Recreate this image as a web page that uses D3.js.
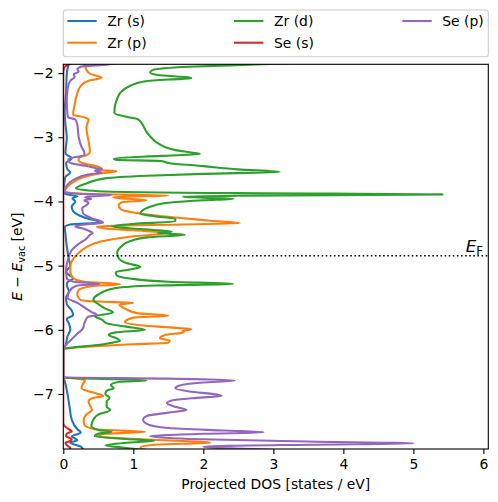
<!DOCTYPE html>
<html><head><meta charset="utf-8">
<script src="https://cdn.jsdelivr.net/npm/d3@7"></script>
<style>body{margin:0;background:#fff}svg{display:block}text{font-family:"DejaVu Sans",sans-serif;fill:#000}</style>
</head><body>
<script>
// ---- data: [energy (eV), projected DOS (states/eV)] ----
const seriesNames = ["Zr (s)", "Zr (p)", "Zr (d)", "Se (s)", "Se (p)"];
const seriesColors = ["#1f77b4", "#ff7f0e", "#2ca02c", "#d62728", "#9467bd"];
const fermiEnergy = -4.845;
const xTicks = [0, 1, 2, 3, 4, 5, 6];
const yTicks = [-2, -3, -4, -5, -6, -7];
const xDomain = [0, 6.07];
const yDomain = [-1.863, -7.857];

const zrS = [[-1.80,0.08],[-1.88,0.07],[-2.0,0.05],[-2.3,0.04],[-2.6,0.02],[-2.8,0.03],[-3.0,0.05],[-3.25,0.03],[-3.33,0.12],[-3.4,0.04],[-3.5,0.06],[-3.55,0.1],[-3.62,0.03],[-3.75,0.01],[-3.86,0.0],[-3.89,0.06],[-3.92,0.2],[-3.95,0.13],[-4.0,0.17],[-4.08,0.12],[-4.15,0.14],[-4.25,0.3],[-4.33,0.53],[-4.36,0.1],[-4.40,0.02],[-4.5,0.03],[-4.7,0.05],[-4.9,0.08],[-5.0,0.1],[-5.1,0.04],[-5.2,0.14],[-5.26,0.06],[-5.3,0.05],[-5.4,0.08],[-5.5,0.04],[-5.6,0.05],[-5.7,0.12],[-5.77,0.14],[-5.83,0.05],[-5.9,0.08],[-6.0,0.1],[-6.1,0.06],[-6.25,0.03],[-6.3,0],[-6.74,0],[-6.8,0.02],[-7.0,0.06],[-7.2,0.09],[-7.4,0.12],[-7.55,0.2],[-7.6,0.25],[-7.66,0.12],[-7.72,0.2],[-7.76,0.1],[-7.82,0.25],[-7.9,0.3]];

const zrP = [[-1.80,0.3],[-1.87,0.31],[-1.95,0.33],[-2.02,0.4],[-2.07,0.55],[-2.09,0.5],[-2.12,0.36],[-2.2,0.25],[-2.35,0.19],[-2.5,0.16],[-2.65,0.14],[-2.69,0.3],[-2.72,0.36],[-2.85,0.33],[-3.0,0.35],[-3.12,0.37],[-3.22,0.38],[-3.28,0.33],[-3.32,0.22],[-3.36,0.22],[-3.41,0.3],[-3.46,0.5],[-3.49,0.55],[-3.51,0.52],[-3.53,0.76],[-3.56,0.55],[-3.60,0.36],[-3.68,0.17],[-3.76,0.07],[-3.85,0.02],[-3.88,0.3],[-3.91,1.5],[-3.93,0.71],[-3.95,0.8],[-3.98,1.19],[-4.01,0.85],[-4.06,0.79],[-4.12,0.82],[-4.18,1.05],[-4.25,1.6],[-4.30,2.1],[-4.34,2.52],[-4.37,1.0],[-4.39,0.48],[-4.42,0.6],[-4.45,1.0],[-4.49,1.48],[-4.51,1.35],[-4.55,0.95],[-4.62,0.55],[-4.7,0.35],[-4.8,0.22],[-4.9,0.14],[-5.0,0.1],[-5.1,0.1],[-5.2,0.15],[-5.25,0.3],[-5.29,0.81],[-5.32,0.4],[-5.38,0.22],[-5.45,0.2],[-5.53,0.24],[-5.56,0.5],[-5.58,1.0],[-5.61,0.8],[-5.68,0.9],[-5.74,1.05],[-5.78,1.5],[-5.81,1.0],[-5.88,0.88],[-5.93,1.1],[-5.97,1.6],[-5.99,1.83],[-6.02,1.7],[-6.04,1.72],[-6.08,1.45],[-6.13,1.38],[-6.17,1.52],[-6.20,1.5],[-6.23,0.9],[-6.26,0.4],[-6.29,0.05],[-6.30,0],[-6.74,0],[-6.76,0.2],[-6.79,0.31],[-6.84,0.28],[-6.91,0.26],[-6.97,0.4],[-7.03,0.57],[-7.07,0.4],[-7.11,0.36],[-7.18,0.38],[-7.25,0.41],[-7.32,0.33],[-7.40,0.29],[-7.48,0.3],[-7.55,0.45],[-7.59,1.17],[-7.62,0.6],[-7.66,0.5],[-7.71,1.2],[-7.76,2.1],[-7.79,1.3],[-7.83,1.1],[-7.9,1.3]];

const zrD = [[-1.80,4.0],[-1.863,2.85],[-1.90,1.8],[-1.95,1.28],[-1.99,1.24],[-2.03,1.35],[-2.07,1.8],[-2.085,1.83],[-2.10,1.5],[-2.13,1.15],[-2.2,0.95],[-2.3,0.82],[-2.4,0.77],[-2.5,0.74],[-2.62,0.73],[-2.68,0.9],[-2.72,1.07],[-2.8,1.13],[-2.9,1.18],[-3.0,1.25],[-3.08,1.33],[-3.15,1.45],[-3.2,1.6],[-3.24,1.85],[-3.26,1.95],[-3.29,1.4],[-3.33,0.72],[-3.35,0.75],[-3.37,1.4],[-3.40,1.5],[-3.45,2.0],[-3.50,2.5],[-3.54,3.09],[-3.57,2.0],[-3.60,1.2],[-3.64,0.6],[-3.72,0.33],[-3.80,0.18],[-3.84,0.5],[-3.87,2.5],[-3.89,5.42],[-3.91,2.5],[-3.925,1.7],[-3.94,2.0],[-3.96,2.43],[-3.98,2.0],[-4.02,1.5],[-4.08,1.25],[-4.15,1.12],[-4.19,1.10],[-4.23,1.3],[-4.27,1.6],[-4.31,1.6],[-4.35,1.0],[-4.39,0.69],[-4.43,1.1],[-4.47,1.55],[-4.49,1.35],[-4.52,1.74],[-4.56,1.2],[-4.62,0.95],[-4.7,0.83],[-4.8,0.77],[-4.88,0.79],[-4.96,0.9],[-5.02,1.1],[-5.06,0.95],[-5.10,0.75],[-5.15,0.76],[-5.2,0.95],[-5.25,1.5],[-5.285,2.43],[-5.31,1.3],[-5.35,0.75],[-5.45,0.5],[-5.53,0.43],[-5.6,0.5],[-5.67,0.6],[-5.73,0.71],[-5.79,0.45],[-5.84,0.55],[-5.90,0.62],[-5.95,0.9],[-6.0,1.17],[-6.04,0.75],[-6.08,0.65],[-6.13,0.76],[-6.17,0.81],[-6.2,0.7],[-6.24,0.45],[-6.28,0.1],[-6.30,0],[-6.75,0],[-6.77,0.8],[-6.79,1.19],[-6.81,0.8],[-6.86,0.68],[-6.91,0.72],[-6.95,0.62],[-7.0,0.6],[-7.06,0.66],[-7.12,0.62],[-7.2,0.62],[-7.25,0.67],[-7.32,0.5],[-7.40,0.43],[-7.5,0.4],[-7.56,0.5],[-7.59,0.69],[-7.62,0.5],[-7.66,0.45],[-7.70,0.9],[-7.73,1.3],[-7.76,0.9],[-7.80,0.6],[-7.84,0.9],[-7.9,1.4]];

const seS = [[-1.80,0.15],[-1.86,0.1],[-1.90,0.02],[-2.0,0],[-7.45,0],[-7.5,0.02],[-7.55,0.08],[-7.58,0.12],[-7.62,0.05],[-7.66,0.04],[-7.7,0.12],[-7.73,0.1],[-7.76,0.03],[-7.8,0.05],[-7.84,0.1],[-7.9,0.05]];

const seP = [[-1.80,0.9],[-1.865,0.64],[-1.90,0.25],[-1.94,0.2],[-1.98,0.22],[-2.02,0.15],[-2.06,0.16],[-2.12,0.1],[-2.25,0.06],[-2.45,0.05],[-2.65,0.06],[-2.69,0.07],[-2.72,0.17],[-2.8,0.2],[-3.0,0.22],[-3.15,0.26],[-3.24,0.30],[-3.28,0.3],[-3.32,0.12],[-3.35,0.07],[-3.4,0.1],[-3.45,0.35],[-3.48,0.45],[-3.50,0.55],[-3.52,0.45],[-3.55,0.55],[-3.58,0.35],[-3.66,0.15],[-3.75,0.05],[-3.85,0.01],[-3.88,0.2],[-3.90,0.69],[-3.93,0.31],[-3.96,0.4],[-3.98,0.3],[-4.02,0.36],[-4.06,0.33],[-4.1,0.27],[-4.18,0.28],[-4.26,0.4],[-4.33,0.57],[-4.36,0.3],[-4.39,0.17],[-4.43,0.3],[-4.46,0.37],[-4.49,0.42],[-4.52,0.38],[-4.58,0.33],[-4.66,0.22],[-4.76,0.12],[-4.9,0.07],[-5.05,0.04],[-5.2,0.05],[-5.25,0.15],[-5.285,0.52],[-5.31,0.2],[-5.38,0.1],[-5.5,0.06],[-5.58,0.2],[-5.65,0.3],[-5.72,0.4],[-5.77,0.48],[-5.80,0.35],[-5.85,0.32],[-5.9,0.3],[-5.98,0.28],[-6.08,0.18],[-6.2,0.07],[-6.3,0],[-6.74,0],[-6.76,1.5],[-6.79,2.45],[-6.82,2.0],[-6.87,1.65],[-6.91,1.6],[-6.96,1.8],[-7.01,2.2],[-7.03,2.26],[-7.06,1.9],[-7.10,1.55],[-7.14,1.48],[-7.2,1.6],[-7.25,1.76],[-7.29,1.5],[-7.34,1.2],[-7.40,1.14],[-7.47,1.2],[-7.53,1.5],[-7.57,2.3],[-7.595,2.86],[-7.62,2.0],[-7.66,1.24],[-7.70,1.8],[-7.74,3.5],[-7.77,5.0],[-7.79,3.5],[-7.82,2.0],[-7.84,2.2],[-7.87,3.0]];

const seriesData = [zrS, zrP, zrD, seS, seP];

// ---- layout ----
const W = 498, H = 502;
const L = 63.3, R = 488.3, T = 64.3, B = 449;
const LW = 2.08;
const svg = d3.select("body").append("svg").attr("width", W).attr("height", H);
const x = d3.scaleLinear().domain(xDomain).range([L, R]);
const y = d3.scaleLinear().domain(yDomain).range([T, B]);

svg.append("defs").append("clipPath").attr("id", "clip")
  .append("rect").attr("x", L).attr("y", T).attr("width", R - L).attr("height", B - T);

const plot = svg.append("g").attr("clip-path", "url(#clip)");
const line = d3.line().x(d => x(d[1])).y(d => y(d[0])).curve(d3.curveMonotoneY);
seriesData.forEach((s, i) => {
  plot.append("path").attr("d", line(s)).attr("fill", "none")
    .attr("stroke", seriesColors[i]).attr("stroke-width", LW).attr("stroke-linejoin", "round");
});
// Fermi level
plot.append("line").attr("x1", L).attr("x2", R).attr("y1", y(fermiEnergy)).attr("y2", y(fermiEnergy))
  .attr("stroke", "#000").attr("stroke-width", 1.6).attr("stroke-dasharray", "1.6,2.5");

const ef = svg.append("text").attr("x", 483).attr("y", y(fermiEnergy) - 4).attr("text-anchor", "end").style("font-size", "16.7px");
ef.append("tspan").text("E").style("font-style", "italic");
ef.append("tspan").text("F").attr("dy", 3).style("font-size", "11.7px");

// axes
const fmt = d => (d < 0 ? "\u2212" + Math.abs(d) : String(d));
const xa = svg.append("g").attr("transform", `translate(0,${B})`)
  .call(d3.axisBottom(x).tickValues(xTicks).tickFormat(fmt).tickSize(4.9).tickPadding(4.9).tickSizeOuter(0));
const ya = svg.append("g").attr("transform", `translate(${L},0)`)
  .call(d3.axisLeft(y).tickValues(yTicks).tickFormat(fmt).tickSize(4.9).tickPadding(4.9).tickSizeOuter(0));
[xa, ya].forEach(a => {
  a.select(".domain").remove();
  a.selectAll("line").attr("stroke", "#000").attr("stroke-width", 1.1);
  a.selectAll("text").style("font-size", "13.9px").attr("font-family", null).attr("fill", "#000");
});
svg.append("rect").attr("x", L).attr("y", T).attr("width", R - L).attr("height", B - T)
  .attr("fill", "none").attr("stroke", "#000").attr("stroke-width", 1.1);

// axis labels
svg.append("text").attr("x", (L + R) / 2).attr("y", 489).attr("text-anchor", "middle")
  .style("font-size", "13.9px").text("Projected DOS [states / eV]");
const yl = svg.append("text").attr("transform", `translate(22,${(T + B) / 2}) rotate(-90)`)
  .attr("text-anchor", "middle").style("font-size", "13.9px");
yl.append("tspan").text("E").style("font-style", "italic");
yl.append("tspan").text(" \u2212 ");
yl.append("tspan").text("E").style("font-style", "italic");
yl.append("tspan").text("vac").attr("dy", 3).style("font-size", "9.7px");
yl.append("tspan").text(" [eV]").attr("dy", -3);

// legend
const lg = svg.append("g");
lg.append("rect").attr("x", 63.3).attr("y", 10).attr("width", 425).attr("height", 46.7)
  .attr("rx", 2.8).attr("fill", "#fff").attr("fill-opacity", 0.8).attr("stroke", "#cccccc").attr("stroke-width", 1.1);
const colX = [67.3, 234, 402.3];
const rowY = [21, 42.7];
seriesNames.forEach((n, i) => {
  const c = Math.floor(i / 2), r = i % 2;
  lg.append("line").attr("x1", colX[c]).attr("x2", colX[c] + 29.4).attr("y1", rowY[r]).attr("y2", rowY[r])
    .attr("stroke", seriesColors[i]).attr("stroke-width", LW);
  lg.append("text").attr("x", colX[c] + 40).attr("y", rowY[r] + 5).style("font-size", "13.9px").text(n);
});
</script>
</body></html>
